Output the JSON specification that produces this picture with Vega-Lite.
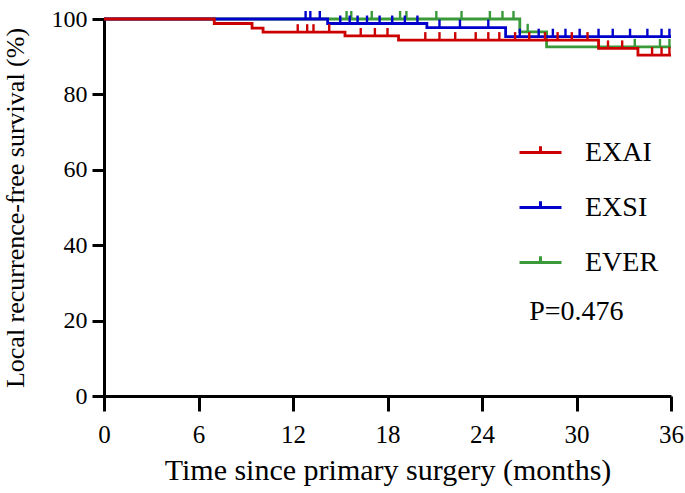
{
  "$schema": "https://vega.github.io/schema/vega-lite/v6.json",
  "width": 567,
  "height": 377,
  "autosize": "none",
  "padding": {"left": 104, "top": 19, "right": 14, "bottom": 97},
  "background": "white",
  "config": {
    "view": {"stroke": null},
    "font": "Liberation Serif",
    "axis": {
      "grid": false,
      "domainColor": "black",
      "domainWidth": 3,
      "tickColor": "black",
      "tickWidth": 3,
      "labelFont": "Liberation Serif",
      "labelColor": "black",
      "titleFont": "Liberation Serif",
      "titleFontWeight": "normal",
      "titleColor": "black",
      "labelFlush": false,
      "labelOverlap": false
    }
  },
  "datasets": {
    "curves": [
      {"group": "EXAI", "t": 0, "s": 100},
      {"group": "EXAI", "t": 7.0, "s": 98.8},
      {"group": "EXAI", "t": 9.4, "s": 97.6},
      {"group": "EXAI", "t": 10.1, "s": 96.5},
      {"group": "EXAI", "t": 15.3, "s": 95.5},
      {"group": "EXAI", "t": 18.7, "s": 94.4},
      {"group": "EXAI", "t": 31.4, "s": 92.2},
      {"group": "EXAI", "t": 33.9, "s": 90.4},
      {"group": "EXAI", "t": 36, "s": 90.4},
      {"group": "EXSI", "t": 0, "s": 100},
      {"group": "EXSI", "t": 14.2, "s": 98.8},
      {"group": "EXSI", "t": 20.5, "s": 97.7},
      {"group": "EXSI", "t": 25.5, "s": 95.3},
      {"group": "EXSI", "t": 36, "s": 95.3},
      {"group": "EVER", "t": 0, "s": 100},
      {"group": "EVER", "t": 26.4, "s": 96.6},
      {"group": "EVER", "t": 28.1, "s": 92.6},
      {"group": "EVER", "t": 36, "s": 92.6}
    ],
    "censors": [
      {"group": "EVER", "t": 15.4, "s": 100},
      {"group": "EVER", "t": 15.7, "s": 100},
      {"group": "EVER", "t": 17.0, "s": 100},
      {"group": "EVER", "t": 18.8, "s": 100},
      {"group": "EVER", "t": 19.2, "s": 100},
      {"group": "EVER", "t": 21.1, "s": 100},
      {"group": "EVER", "t": 22.7, "s": 100},
      {"group": "EVER", "t": 24.5, "s": 100},
      {"group": "EVER", "t": 25.3, "s": 100},
      {"group": "EVER", "t": 26.0, "s": 100},
      {"group": "EVER", "t": 26.9, "s": 96.6},
      {"group": "EVER", "t": 33.7, "s": 92.6},
      {"group": "EVER", "t": 35.3, "s": 92.6},
      {"group": "EVER", "t": 35.9, "s": 92.6},
      {"group": "EXSI", "t": 12.8, "s": 100},
      {"group": "EXSI", "t": 13.1, "s": 100},
      {"group": "EXSI", "t": 13.7, "s": 100},
      {"group": "EXSI", "t": 15.0, "s": 98.8},
      {"group": "EXSI", "t": 15.6, "s": 98.8},
      {"group": "EXSI", "t": 16.1, "s": 98.8},
      {"group": "EXSI", "t": 16.7, "s": 98.8},
      {"group": "EXSI", "t": 17.5, "s": 98.8},
      {"group": "EXSI", "t": 18.3, "s": 98.8},
      {"group": "EXSI", "t": 19.1, "s": 98.8},
      {"group": "EXSI", "t": 19.9, "s": 98.8},
      {"group": "EXSI", "t": 21.3, "s": 97.7},
      {"group": "EXSI", "t": 22.6, "s": 97.7},
      {"group": "EXSI", "t": 24.4, "s": 97.7},
      {"group": "EXSI", "t": 26.4, "s": 95.3},
      {"group": "EXSI", "t": 27.6, "s": 95.3},
      {"group": "EXSI", "t": 28.5, "s": 95.3},
      {"group": "EXSI", "t": 29.3, "s": 95.3},
      {"group": "EXSI", "t": 30.2, "s": 95.3},
      {"group": "EXSI", "t": 31.4, "s": 95.3},
      {"group": "EXSI", "t": 32.3, "s": 95.3},
      {"group": "EXSI", "t": 33.4, "s": 95.3},
      {"group": "EXSI", "t": 34.5, "s": 95.3},
      {"group": "EXSI", "t": 35.4, "s": 95.3},
      {"group": "EXSI", "t": 35.9, "s": 95.3},
      {"group": "EXAI", "t": 12.3, "s": 96.5},
      {"group": "EXAI", "t": 12.9, "s": 96.5},
      {"group": "EXAI", "t": 13.3, "s": 96.5},
      {"group": "EXAI", "t": 14.3, "s": 96.5},
      {"group": "EXAI", "t": 16.3, "s": 95.5},
      {"group": "EXAI", "t": 17.2, "s": 95.5},
      {"group": "EXAI", "t": 18.0, "s": 95.5},
      {"group": "EXAI", "t": 20.4, "s": 94.4},
      {"group": "EXAI", "t": 21.3, "s": 94.4},
      {"group": "EXAI", "t": 22.3, "s": 94.4},
      {"group": "EXAI", "t": 23.6, "s": 94.4},
      {"group": "EXAI", "t": 24.4, "s": 94.4},
      {"group": "EXAI", "t": 25.1, "s": 94.4},
      {"group": "EXAI", "t": 26.1, "s": 94.4},
      {"group": "EXAI", "t": 27.0, "s": 94.4},
      {"group": "EXAI", "t": 28.0, "s": 94.4},
      {"group": "EXAI", "t": 28.8, "s": 94.4},
      {"group": "EXAI", "t": 29.7, "s": 94.4},
      {"group": "EXAI", "t": 30.7, "s": 94.4},
      {"group": "EXAI", "t": 32.0, "s": 92.2},
      {"group": "EXAI", "t": 32.9, "s": 92.2},
      {"group": "EXAI", "t": 34.8, "s": 90.4},
      {"group": "EXAI", "t": 35.4, "s": 90.4},
      {"group": "EXAI", "t": 35.9, "s": 90.4}
    ],
    "notes": [{"label": "P=0.476", "t": 27.0, "s": 22.3}]
  },
  "layer": [
    {
      "data": {"name": "curves"},
      "transform": [{"filter": "datum.group === 'EVER'"}],
      "mark": {"type": "line", "interpolate": "step-after", "strokeWidth": 2.8},
      "encoding": {
        "x": {
          "field": "t",
          "type": "quantitative",
          "scale": {"domain": [0, 36], "nice": false, "zero": false},
          "axis": {"values": [0, 6, 12, 18, 24, 30, 36], "title": "Time since primary surgery (months)", "labelFontSize": 25, "titleFontSize": 30, "tickSize": 15, "labelPadding": 11, "titlePadding": 8}
        },
        "y": {
          "field": "s",
          "type": "quantitative",
          "scale": {"domain": [0, 100], "nice": false},
          "axis": {"values": [0, 20, 40, 60, 80, 100], "title": "Local recurrence-free survival (%)", "labelFontSize": 24, "titleFontSize": 26, "tickSize": 12, "labelPadding": 5, "titlePadding": 23}
        },
        "color": {
          "field": "group",
          "type": "nominal",
          "scale": {"domain": ["EXAI", "EXSI", "EVER"], "range": ["#CC0000", "#0000CC", "#3A9A3A"]},
          "legend": {
            "orient": "none",
            "legendX": 414,
            "legendY": 111,
            "title": null,
            "padding": 0,
            "symbolType": "M-1,0H1M0,0V-0.3",
            "symbolSize": 1764,
            "symbolStrokeWidth": 3,
            "symbolOpacity": 1,
            "symbolFillColor": "transparent",
            "labelFont": "Liberation Serif",
            "labelFontSize": 28,
            "labelColor": "black",
            "labelOffset": 22,
            "rowPadding": 18
          }
        }
      }
    },
    {
      "data": {"name": "curves"},
      "transform": [{"filter": "datum.group === 'EXSI'"}],
      "mark": {"type": "line", "interpolate": "step-after", "strokeWidth": 2.8},
      "encoding": {
        "x": {"field": "t", "type": "quantitative"},
        "y": {"field": "s", "type": "quantitative"},
        "color": {"field": "group", "type": "nominal"}
      }
    },
    {
      "data": {"name": "curves"},
      "transform": [{"filter": "datum.group === 'EXAI'"}],
      "mark": {"type": "line", "interpolate": "step-after", "strokeWidth": 2.8},
      "encoding": {
        "x": {"field": "t", "type": "quantitative"},
        "y": {"field": "s", "type": "quantitative"},
        "color": {"field": "group", "type": "nominal"}
      }
    },
    {
      "data": {"name": "censors"},
      "mark": {"type": "tick", "orient": "vertical", "size": 8, "thickness": 2.4, "yOffset": -4, "opacity": 1},
      "encoding": {
        "x": {"field": "t", "type": "quantitative"},
        "y": {"field": "s", "type": "quantitative"},
        "color": {"field": "group", "type": "nominal"}
      }
    },
    {
      "data": {"name": "notes"},
      "mark": {"type": "text", "align": "left", "baseline": "middle", "font": "Liberation Serif", "fontSize": 28, "color": "black"},
      "encoding": {
        "x": {"field": "t", "type": "quantitative"},
        "y": {"field": "s", "type": "quantitative"},
        "text": {"field": "label", "type": "nominal"}
      }
    }
  ]
}
